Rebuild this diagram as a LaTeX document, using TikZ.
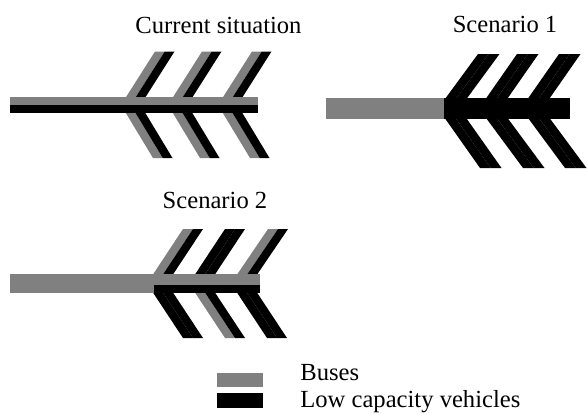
\documentclass[tikz,border=0pt]{standalone}
\usepackage{fontspec}
\setmainfont{Liberation Serif}

\definecolor{busgray}{RGB}{128,128,128}

\begin{document}
\begin{tikzpicture}[x=0.5pt,y=-0.5pt]
	\fontsize{12.3}{14}\selectfont
	\useasboundingbox (0,0) rectangle (587,413);

	% levels (from the top)
	\def \csTop{51.5}
	\def \csMid{105}
	\def \csBot{158}
	\def \sOneTop{54}
	\def \sOneMid{108.5}
	\def \sOneBot{168}
	\def \sTwoTop{229}
	\def \sTwoMid{283.5}
	\def \sTwoBot{338}

	\tikzstyle{title}=[anchor=base]
	\tikzstyle{legend}=[anchor=base west, inner sep=0pt]

	% one arm: vertex x, vertex y, end x, end y, left colour, right colour, half width
	\def\arm#1#2#3#4#5#6#7{%
		\fill[#5] (#1,#2) -- (#1+#7,#2) -- (#3+#7,#4) -- (#3,#4) -- cycle;
		\fill[#6] (#1+#7,#2) -- (#1+2*#7,#2) -- (#3+2*#7,#4) -- (#3+#7,#4) -- cycle;}

	% current situation
	\foreach \vx/\tx/\bx in {121/155/153, 168/202/200, 218/252/250} {
		\arm{\vx}{\csMid}{\tx}{\csTop}{busgray}{black}{9.75}
		\arm{\vx}{\csMid}{\bx}{\csBot}{busgray}{black}{9.75}
	}
	\fill[busgray] (10,97) rectangle (258,105);
	\fill[black] (10,105) rectangle (258,113);

	% scenario 1
	\foreach \vx/\tx/\bx in {438/478/480, 479/517/523, 521/559/565} {
		\arm{\vx}{\sOneMid}{\tx}{\sOneTop}{black}{black}{10.75}
		\arm{\vx}{\sOneMid}{\bx}{\sOneBot}{black}{black}{10.75}
	}
	\fill[busgray] (326,98) rectangle (444,119);
	\fill[black] (444,98) rectangle (570,119);

	% scenario 2
	\foreach \vx/\tx/\bx/\ua/\ub/\la/\lb in {147/183/183/busgray/black/black/black,
		189/225/225/black/black/busgray/black, 231/268/267/busgray/black/black/black} {
		\arm{\vx}{\sTwoMid}{\tx}{\sTwoTop}{\ua}{\ub}{10}
		\arm{\vx}{\sTwoMid}{\bx}{\sTwoBot}{\la}{\lb}{10}
	}
	\fill[busgray] (10,274) rectangle (154,293);
	\fill[busgray] (154,274) rectangle (260,285);
	\fill[black] (154,285) rectangle (260,293);

	% titles
	\node[title] (cur-title) at (218.5,33) {Current situation};
	\node[title] (sc1-title) at (505,32) {Scenario 1};
	\node[title] (sc2-title) at (215,208) {Scenario 2};

	% legend
	\fill[busgray] (217,373) rectangle (263,387);
	\fill[black] (217,393) rectangle (263,408);
	\node[legend] (bus-text) at (300,380) {Buses};
	\node[legend] (lcv-text) at (300,407) {Low capacity vehicles};
\end{tikzpicture}
\end{document}
